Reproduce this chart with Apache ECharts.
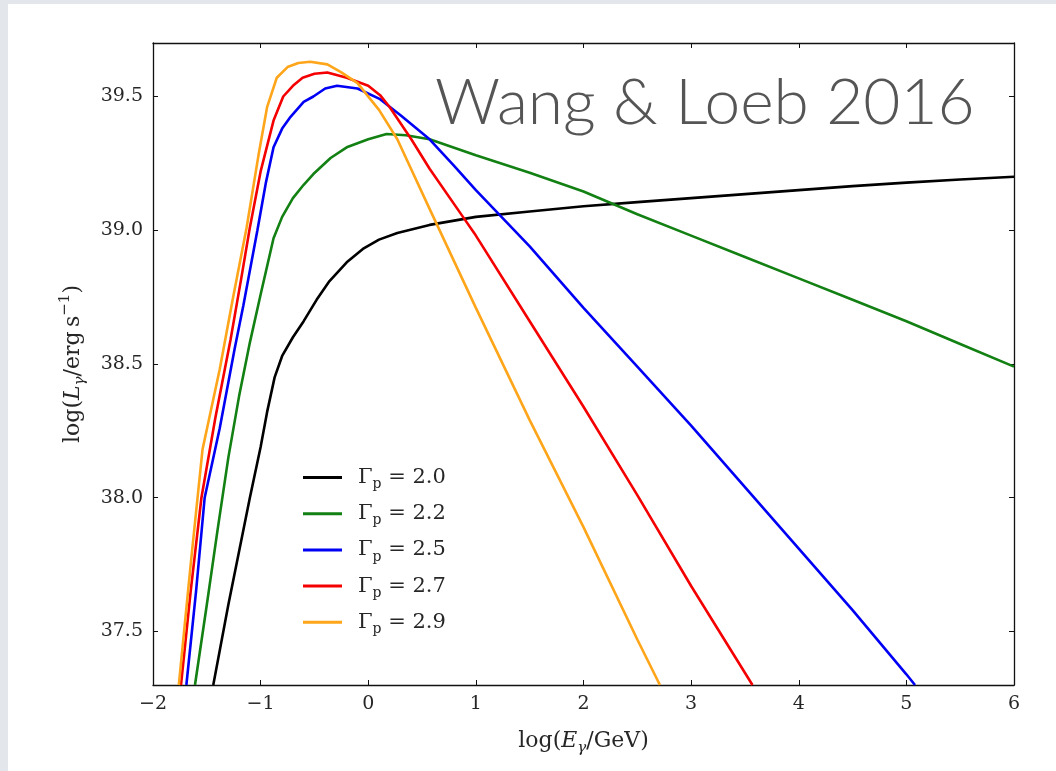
<!DOCTYPE html>
<html>
<head>
<meta charset="utf-8">
<script src="https://cdn.jsdelivr.net/npm/echarts@6/dist/echarts.min.js"></script>
<style>
  html, body { margin: 0; padding: 0; background: #ffffff; }
  #chart { width: 1056px; height: 771px; }
</style>
</head>
<body>
<div id="chart"></div>
<script>
// Gamma-ray luminosity spectra, log(L_γ / erg s^-1) vs log(E_γ / GeV),
// for several proton spectral indices Γp. Each series is a list of [logE, logL].
const gamma20 = [
  [-1.44, 37.30], [-1.30, 37.60], [-1.20, 37.80], [-1.10, 38.00], [-1.00, 38.19],
  [-0.94, 38.32], [-0.87, 38.45], [-0.80, 38.53], [-0.70, 38.60], [-0.60, 38.66],
  [-0.48, 38.74], [-0.36, 38.81], [-0.20, 38.88], [-0.05, 38.93], [0.10, 38.965],
  [0.27, 38.99], [0.57, 39.02], [1.00, 39.05], [1.50, 39.07], [2.00, 39.09],
  [2.50, 39.105], [3.00, 39.12], [3.50, 39.135], [4.00, 39.15], [4.50, 39.165],
  [5.00, 39.178], [5.50, 39.19], [6.00, 39.20]
];
const gamma22 = [
  [-1.61, 37.30], [-1.50, 37.60], [-1.40, 37.88], [-1.30, 38.15], [-1.20, 38.38],
  [-1.10, 38.58], [-1.00, 38.76], [-0.88, 38.97], [-0.80, 39.05], [-0.70, 39.12],
  [-0.60, 39.17], [-0.51, 39.21], [-0.35, 39.27], [-0.20, 39.31], [0.00, 39.34],
  [0.17, 39.36], [0.35, 39.355], [0.57, 39.34], [1.00, 39.28], [1.50, 39.215],
  [2.00, 39.145], [2.50, 39.06], [3.00, 38.98], [3.50, 38.90], [4.00, 38.82],
  [4.50, 38.74], [5.00, 38.66], [5.50, 38.575], [6.00, 38.49]
];
const gamma25 = [
  [-1.69, 37.30], [-1.60, 37.65], [-1.52, 38.00], [-1.38, 38.26], [-1.24, 38.56],
  [-1.16, 38.72], [-1.03, 39.00], [-0.95, 39.18], [-0.88, 39.31], [-0.80, 39.38],
  [-0.73, 39.42], [-0.60, 39.48], [-0.51, 39.50], [-0.40, 39.53], [-0.29, 39.54],
  [-0.10, 39.53], [0.11, 39.49], [0.30, 39.43], [0.57, 39.34], [0.80, 39.24],
  [1.00, 39.15], [1.50, 38.94], [2.00, 38.71], [2.50, 38.49], [3.00, 38.27],
  [3.50, 38.04], [4.00, 37.81], [4.50, 37.58], [5.00, 37.34], [5.08, 37.30]
];
const gamma27 = [
  [-1.74, 37.30], [-1.65, 37.65], [-1.55, 38.00], [-1.42, 38.30], [-1.28, 38.59],
  [-1.18, 38.82], [-1.10, 39.01], [-1.00, 39.22], [-0.88, 39.41], [-0.79, 39.50],
  [-0.70, 39.54], [-0.61, 39.57], [-0.50, 39.585], [-0.38, 39.59], [-0.20, 39.57],
  [0.00, 39.54], [0.11, 39.505], [0.20, 39.46], [0.30, 39.40], [0.40, 39.34],
  [0.57, 39.23], [0.88, 39.05], [1.00, 38.98], [1.50, 38.66], [2.00, 38.34],
  [2.50, 38.01], [3.00, 37.67], [3.57, 37.30]
];
const gamma29 = [
  [-1.76, 37.30], [-1.65, 37.75], [-1.54, 38.18], [-1.38, 38.48], [-1.26, 38.74],
  [-1.13, 39.01], [-1.02, 39.28], [-0.94, 39.46], [-0.85, 39.57], [-0.75, 39.61],
  [-0.65, 39.625], [-0.54, 39.63], [-0.38, 39.62], [-0.25, 39.59], [-0.10, 39.55],
  [0.10, 39.45], [0.27, 39.34], [0.57, 39.08], [1.00, 38.71], [1.50, 38.29],
  [2.00, 37.89], [2.50, 37.47], [2.71, 37.30]
];

const seriesNames = ['Γp = 2.0', 'Γp = 2.2', 'Γp = 2.5', 'Γp = 2.7', 'Γp = 2.9'];
const seriesData = [gamma20, gamma22, gamma25, gamma27, gamma29];
const seriesColors = ['#000000', '#128012', '#0000f5', '#f50000', '#ffa51a'];

// axis ranges
const xMin = -2, xMax = 6, xStep = 1;
const yMin = 37.3, yMax = 39.7;

const SERIF = '"DejaVu Serif", "Liberation Serif", serif';
const TEXT_COLOR = '#262626';

const chart = echarts.init(document.getElementById('chart'), null, { renderer: 'canvas' });

const fmtX = v => (v < 0 ? '\u2212' + Math.abs(v) : String(v));
const fmtY = v => v.toFixed(1);

const mathRich = {
  t: { fontFamily: SERIF, fontSize: 22, color: TEXT_COLOR, lineHeight: 30 },
  i: { fontFamily: SERIF, fontSize: 22, fontStyle: 'italic', color: TEXT_COLOR, lineHeight: 30 },
  s: { fontFamily: SERIF, fontSize: 15, fontStyle: 'italic', color: TEXT_COLOR, lineHeight: 15, verticalAlign: 'bottom' },
  u: { fontFamily: SERIF, fontSize: 15, color: TEXT_COLOR, lineHeight: 15, verticalAlign: 'top' }
};

const frameAxis = {
  axisLine: { show: true, onZero: false, lineStyle: { color: '#111', width: 1.3 } },
  axisTick: { show: true, inside: true, length: 5, lineStyle: { color: '#111', width: 1 } },
  splitLine: { show: false }
};

const option = {
  backgroundColor: '#ffffff',
  animation: false,
  grid: { left: 153, right: 42, top: 43, bottom: 86, containLabel: false },
  graphic: [
    { type: 'rect', left: 0, top: 0, shape: { width: 8, height: 771 }, style: { fill: '#e3e6ea' }, silent: true },
    { type: 'rect', left: 0, top: 0, shape: { width: 1056, height: 4 }, style: { fill: '#e3e6ea' }, silent: true },
    {
      type: 'text', x: 435, y: 103, silent: true, z: 10,
      style: {
        text: 'Wang & Loeb 2016',
        fontFamily: 'Lato, "Open Sans", sans-serif',
        fontWeight: 300,
        fontSize: 64,
        fill: '#555555',
        verticalAlign: 'middle'
      }
    }
  ],
  legend: {
    orient: 'vertical',
    left: 303,
    top: 467,
    padding: 0,
    itemWidth: 39,
    itemHeight: 3,
    itemGap: 11.7,
    icon: 'rect',
    data: seriesNames,
    formatter: name => {
      const val = name.split('= ')[1];
      return '{g|Γ}{p|p}{e| = ' + val + '}';
    },
    textStyle: {
      rich: {
        g: { fontFamily: SERIF, fontSize: 21, color: TEXT_COLOR, lineHeight: 28, padding: [0, 0, 0, 11] },
        p: { fontFamily: SERIF, fontSize: 14, color: TEXT_COLOR, lineHeight: 14, verticalAlign: 'bottom' },
        e: { fontFamily: SERIF, fontSize: 21, color: TEXT_COLOR, lineHeight: 28 }
      }
    }
  },
  xAxis: [
    Object.assign({
      type: 'value', position: 'bottom', min: xMin, max: xMax, interval: xStep,
      name: '{t|log(}{i|E}{s|γ}{t|/GeV)}',
      nameLocation: 'middle', nameGap: 41,
      nameTextStyle: { rich: mathRich },
      axisLabel: { formatter: fmtX, fontFamily: SERIF, fontSize: 19, color: TEXT_COLOR, margin: 10 }
    }, frameAxis),
    Object.assign({
      type: 'value', position: 'top', min: xMin, max: xMax, interval: xStep,
      axisLabel: { show: false }
    }, frameAxis)
  ],
  yAxis: [
    Object.assign({
      type: 'value', position: 'left', min: yMin, max: yMax, splitNumber: 5,
      name: '{t|log(}{i|L}{s|γ}{t|/erg\u2009s}{u|\u22121}{t|)}',
      nameLocation: 'middle', nameRotate: 90, nameGap: 65,
      nameTextStyle: { rich: mathRich },
      axisLabel: { formatter: fmtY, fontFamily: SERIF, fontSize: 19, color: TEXT_COLOR, margin: 10,
                   showMinLabel: false, showMaxLabel: false }
    }, frameAxis),
    Object.assign({
      type: 'value', position: 'right', min: yMin, max: yMax, splitNumber: 5,
      axisLabel: { show: false }
    }, frameAxis)
  ],
  series: seriesData.map((d, k) => ({
    name: seriesNames[k],
    type: 'line',
    xAxisIndex: 0,
    yAxisIndex: 0,
    data: d,
    showSymbol: false,
    symbol: 'none',
    clip: true,
    z: 2 + k,
    color: seriesColors[k],
    lineStyle: { color: seriesColors[k], width: 2.6 }
  }))
};

chart.setOption(option);
</script>
</body>
</html>
